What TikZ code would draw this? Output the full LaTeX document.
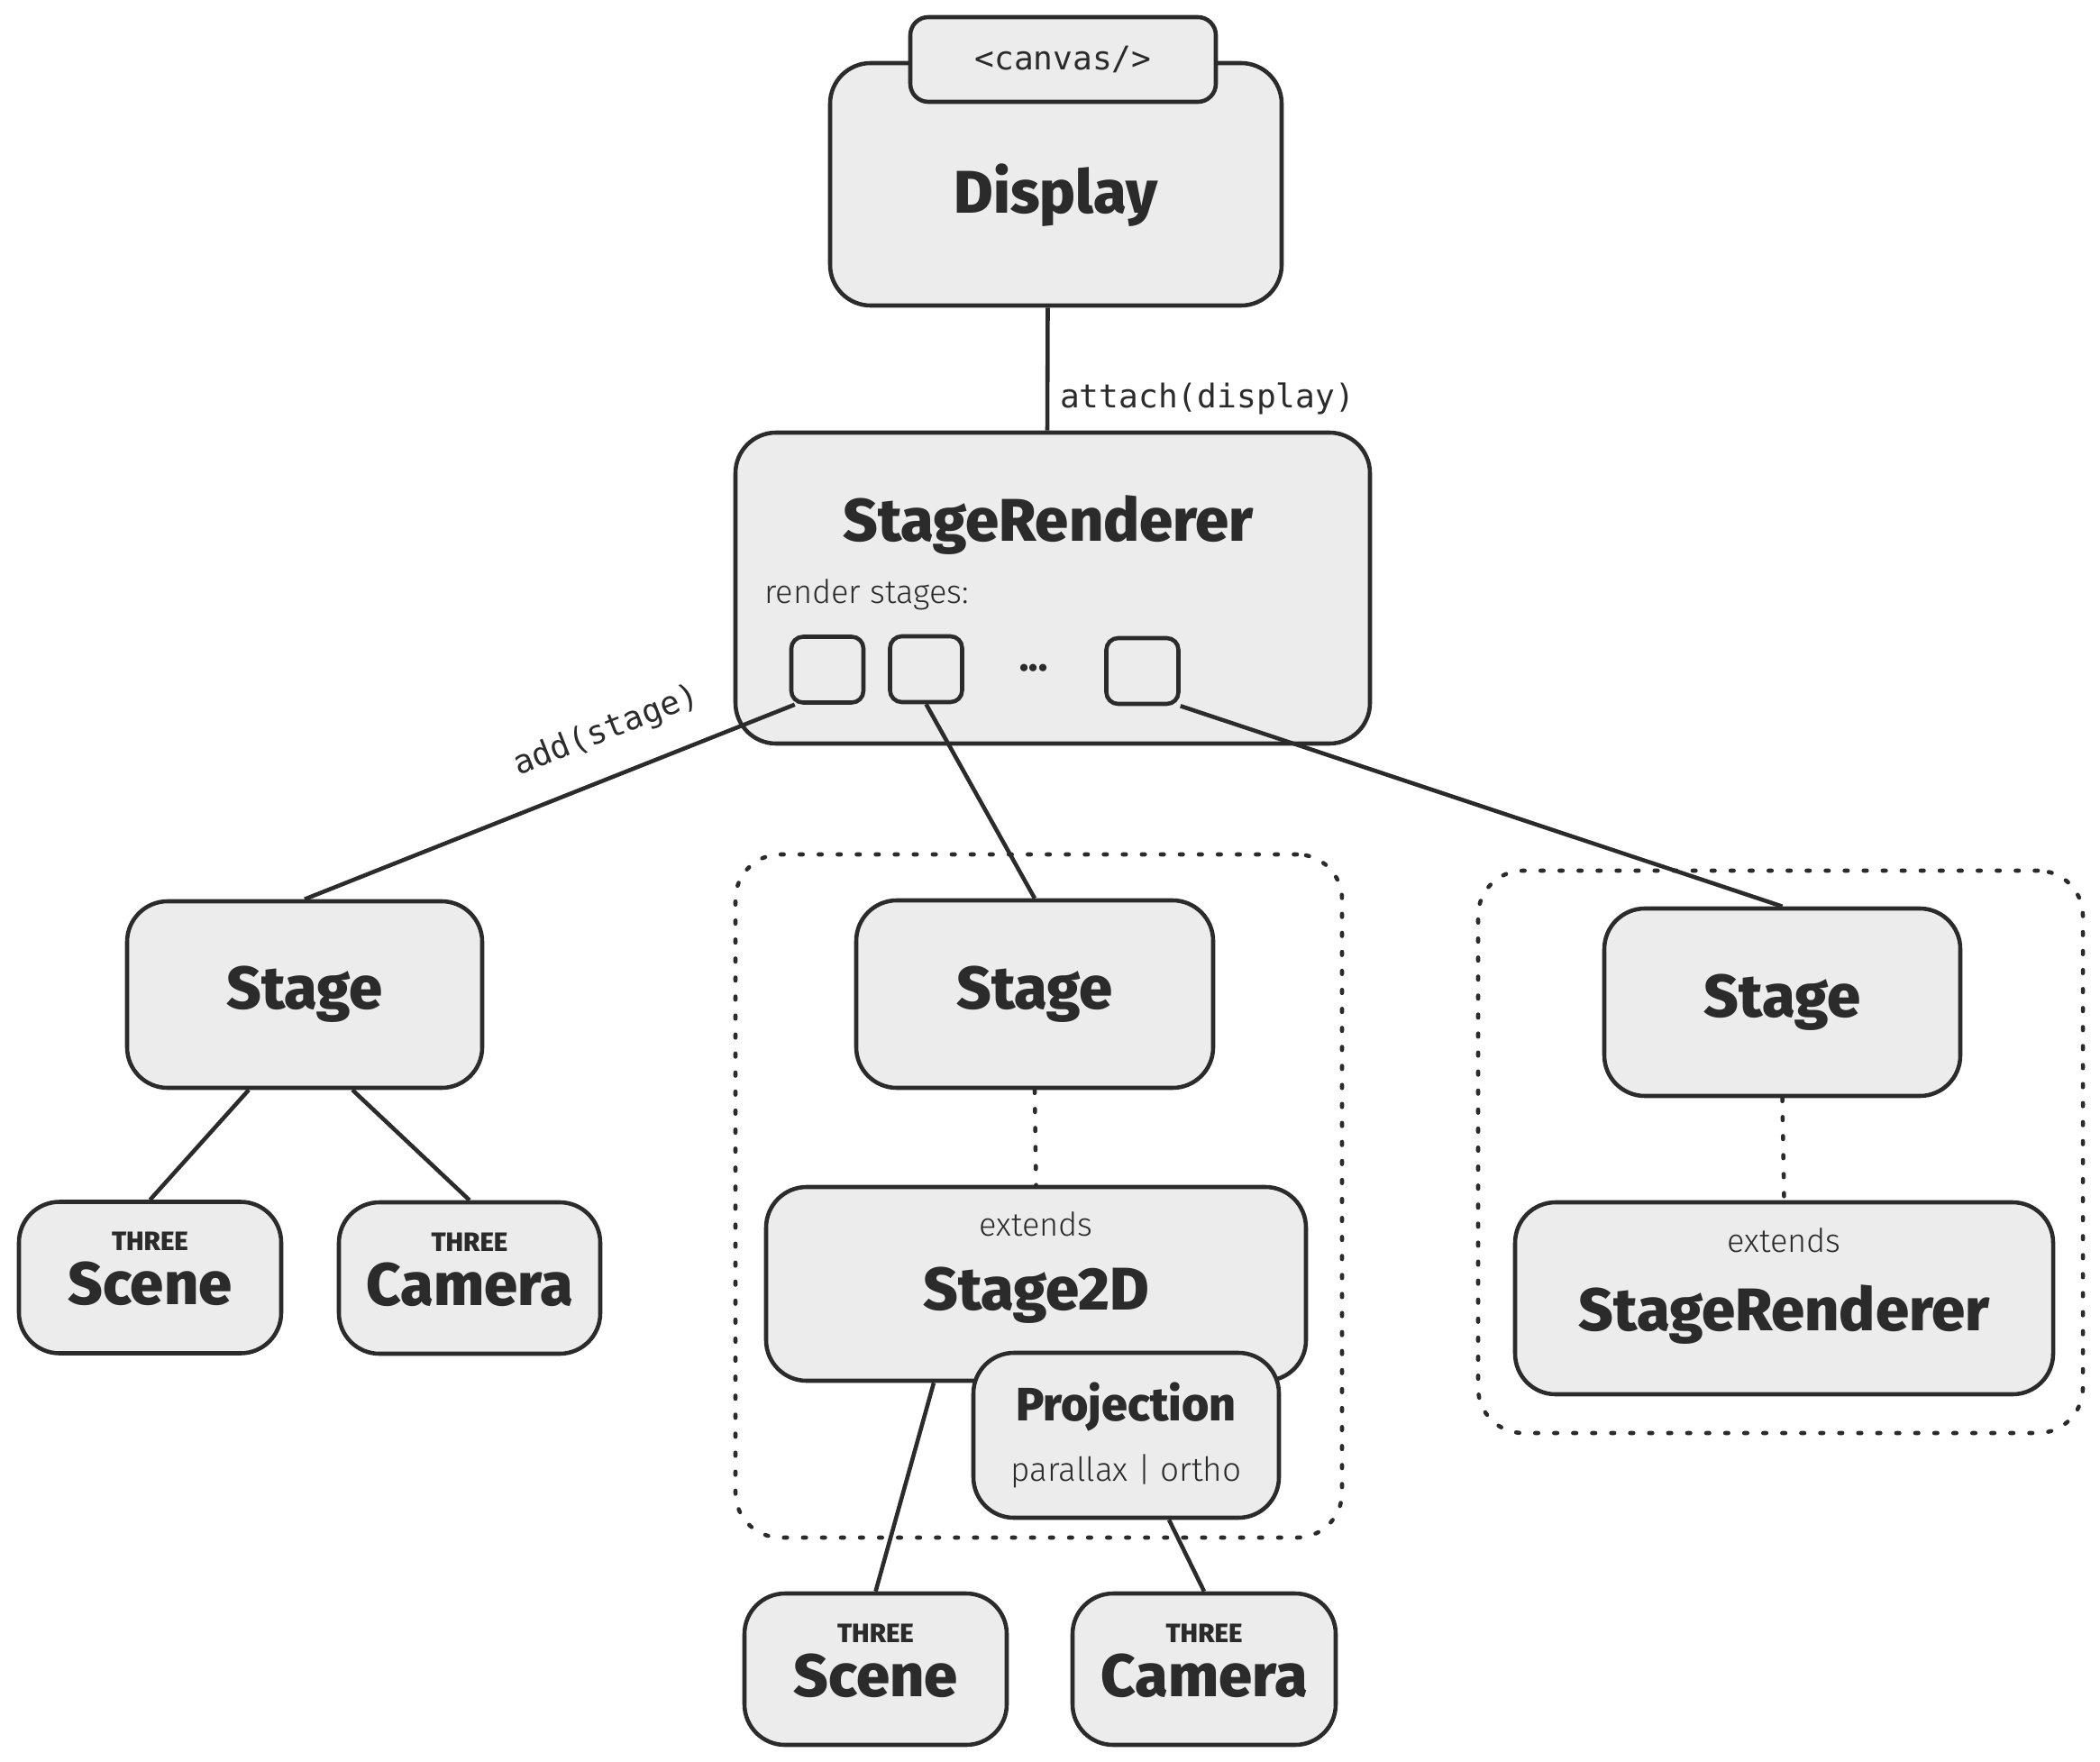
\documentclass[tikz,border=0pt]{standalone}
\usepackage{fontspec}
\setmainfont{Fira Sans}
\newfontfamily\headfont{Fira Sans ExtraBold}
\newfontfamily\handfont{Fira Sans Light}
\newfontfamily\codefont{DejaVu Sans Mono}
\usetikzlibrary{positioning}
\definecolor{ink}{HTML}{2B2B2B}
\definecolor{paper}{HTML}{ECECEC}
\tikzstyle{title} = [text=ink, font=\headfont\fontsize{19}{21}\selectfont]
\tikzstyle{box} = [rectangle, rounded corners=0.45cm, draw=ink, fill=paper, line width=1.3pt, align=center, title]
\tikzstyle{slot} = [rectangle, rounded corners=0.13cm, draw=ink, fill=paper, line width=1.3pt, minimum width=0.8cm, minimum height=0.73cm]
\tikzstyle{grp} = [rectangle, rounded corners=0.5cm, draw=ink, line width=1.3pt, dash pattern=on 1pt off 5pt, line cap=round]
\tikzstyle{link} = [draw=ink, line width=1.3pt]
\tikzstyle{dots} = [draw=ink, line width=1.3pt, dash pattern=on 1pt off 5pt, line cap=round]
\tikzstyle{hand} = [text=ink, font=\handfont\fontsize{10.3}{12}\selectfont]
\tikzstyle{code} = [text=ink, font=\codefont\fontsize{10.3}{12}\selectfont]
\newcommand{\three}[1]{{\fontsize{8.4}{9}\selectfont THREE}\\[-4pt]#1\rule[-0.2cm]{0pt}{0.2cm}}

\begin{document}
\begin{tikzpicture}[node distance = 3.14cm]
		\useasboundingbox (0,0) rectangle (23.3,-19.55);
		\node[grp, minimum width=6.73cm, minimum height=7.58cm](grpb) at (11.525,-13.27){};
		\node[grp, minimum width=6.71cm, minimum height=6.24cm](grpc) at (19.755,-12.78){};
		
		\node[box, minimum width=5.01cm, minimum height=2.69cm](display) at (11.715,-2.045){\rule{0pt}{0.8cm}Display};
		\node[box, rounded corners=0.2cm, minimum width=3.39cm, minimum height=0.94cm, code, above of=display, node distance=1.385cm, xshift=0.08cm](canvas){<canvas/>};
		
		\node[box, minimum width=7.04cm, minimum height=3.45cm](sr) at (11.68,-6.525){};
		\node[title, above of=sr, node distance=0.7cm, xshift=-0.05cm](srname){StageRenderer};
		\node[hand, anchor=west](srlist) at ([xshift=0.22cm, yshift=-0.075cm]sr.west){render stages:};
		\node[slot](sq1) at (9.18,-7.43){};
		\node[slot](sq2) at (10.275,-7.425){};
		\node[slot](sq3) at (12.675,-7.445){};
		\node[title, font=\headfont\fontsize{12}{14}\selectfont](more) at (11.47,-7.41){...};
		
		\node[box, minimum width=3.94cm, minimum height=2.07cm](stagea) at (3.38,-11.035){Stage};
		\node[box, minimum width=2.91cm, minimum height=1.68cm, below of=stagea, xshift=-1.715cm](scenea){\three{Scene}};
		\node[box, minimum width=2.9cm, minimum height=1.68cm, below of=stagea, node distance=3.145cm, xshift=1.83cm](cameraa){\three{Camera}};
		
		\node[box, minimum width=3.96cm, minimum height=2.08cm](stageb) at (11.48,-11.03){Stage};
		\node[box, minimum width=5.99cm, minimum height=2.15cm](stagetwod) at (11.495,-14.245){};
		\node[hand, above of=stagetwod, node distance=0.665cm](extb){extends};
		\node[title, below of=stagetwod, node distance=0.13cm](twodname){Stage2D};
		\node[box, minimum width=3.39cm, minimum height=1.83cm, font=\headfont\fontsize{14.8}{17}\selectfont](proj) at (12.495,-15.925){Projection\\[2pt]{\handfont\fontsize{10.5}{12}\selectfont parallax | ortho}};
		\node[box, minimum width=2.91cm, minimum height=1.68cm, below of=stagetwod, node distance=4.275cm, xshift=-1.78cm](sceneb){\three{Scene}};
		\node[box, minimum width=2.92cm, minimum height=1.68cm, below of=stagetwod, node distance=4.275cm, xshift=1.865cm](camerab){\three{Camera}};
		
		\node[box, minimum width=3.95cm, minimum height=2.08cm](stagec) at (19.775,-11.12){Stage};
		\node[box, minimum width=5.97cm, minimum height=2.13cm](src) at (19.795,-14.405){};
		\node[hand, above of=src, node distance=0.645cm](extc){extends};
		\node[title, below of=src, node distance=0.18cm](srcname){StageRenderer};
		
		\draw[link]([xshift=-0.09cm]display.south)--node[code, right, pos=0.74]{attach(display)}([xshift=-0.06cm]sr.north);
		\draw[link](stagea.north)--node[code, sloped, above=0.18cm, pos=0.65]{add(stage)}([xshift=0.06cm]sq1.south west);
		\draw[link](sq2.south)--(stageb.north);
		\draw[link](sq3.south east)--(stagec.north);
		\draw[link]([xshift=-0.62cm]stagea.south)--(scenea.north);
		\draw[link]([xshift=0.53cm]stagea.south)--(cameraa.north);
		\draw[dots](stageb.south)--(stagetwod.north);
		\draw[link]([xshift=-1.135cm]stagetwod.south)--(sceneb.north);
		\draw[link]([xshift=0.475cm]proj.south)--(camerab.north);
		\draw[dots](stagec.south)--(src.north);
	\end{tikzpicture}
\end{document}
